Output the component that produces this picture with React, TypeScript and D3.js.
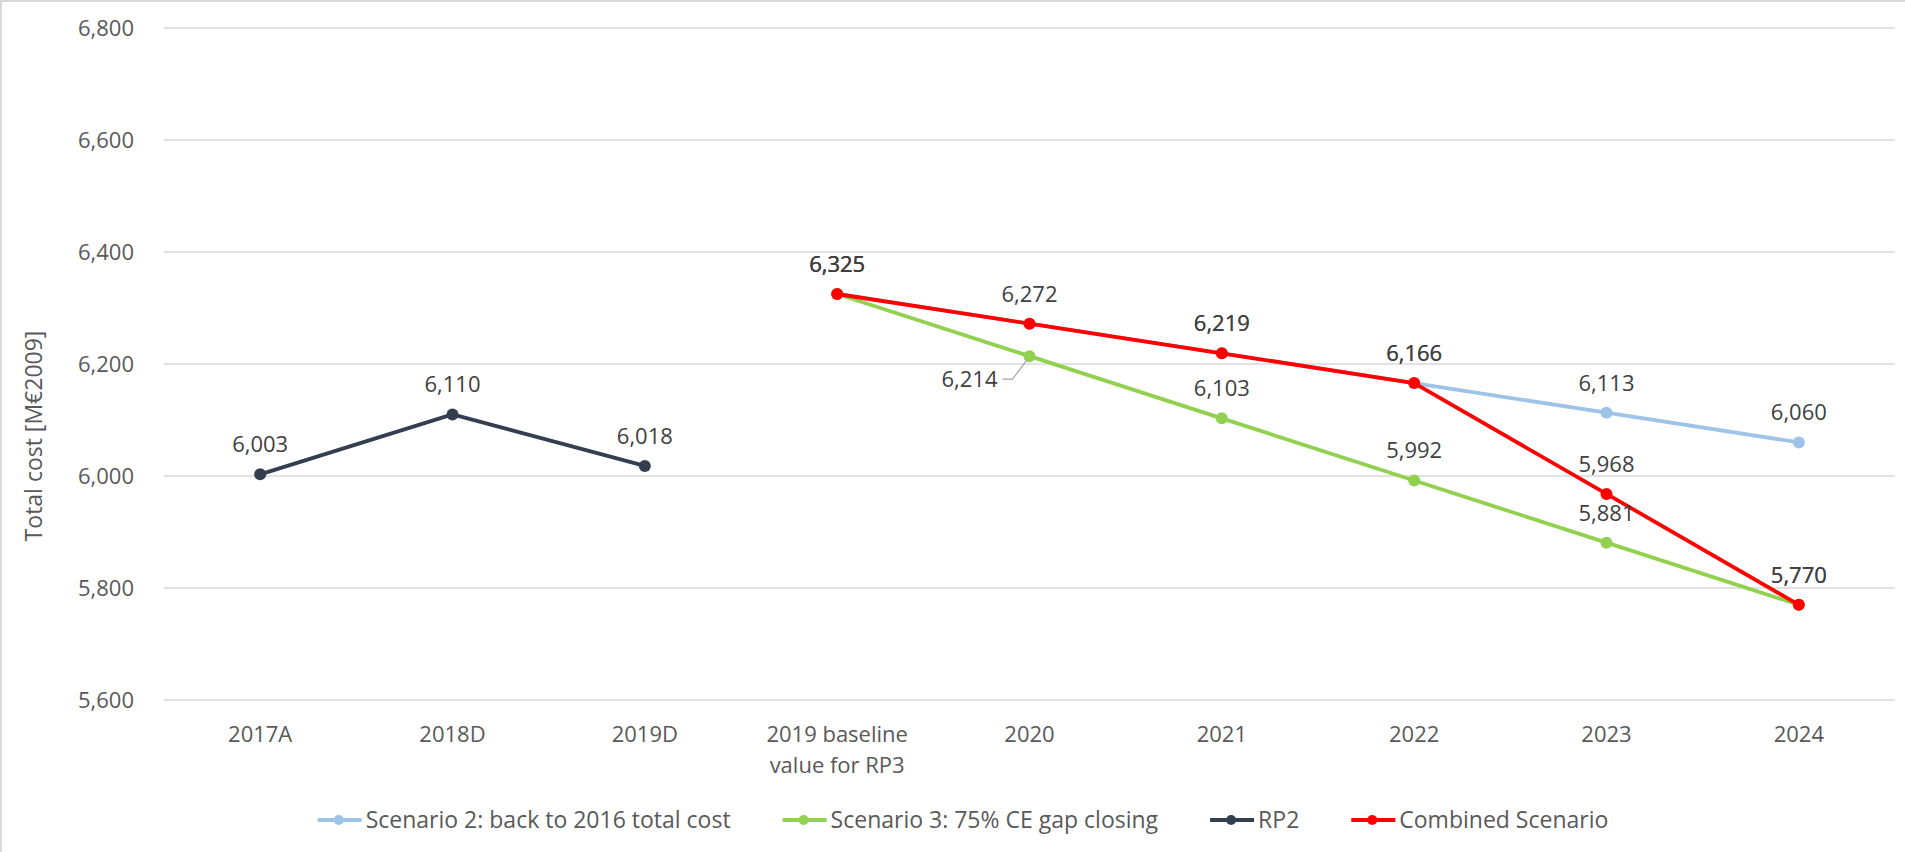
import React, { useEffect, useRef } from "react";
import * as d3 from "d3";

const categories: string[][] = [
  ["2017A"], ["2018D"], ["2019D"], ["2019 baseline", "value for RP3"],
  ["2020"], ["2021"], ["2022"], ["2023"], ["2024"],
];
const yTicks = [5600, 5800, 6000, 6200, 6400, 6600, 6800];

const scenario2 = [null, null, null, 6325, 6272, 6219, 6166, 6113, 6060];
const scenario3 = [null, null, null, 6325, 6214, 6103, 5992, 5881, 5770];
const rp2 = [6003, 6110, 6018, null, null, null, null, null, null];
const combined = [null, null, null, 6325, 6272, 6219, 6166, 5968, 5770];

// which points get a data label (1 = above, 2 = left with leader line, 0 = none)
const scenario2Labels = [0, 0, 0, 1, 0, 1, 1, 1, 1];
const scenario3Labels = [0, 0, 0, 1, 2, 1, 1, 1, 1];
const rp2Labels = [1, 1, 1, 0, 0, 0, 0, 0, 0];
const combinedLabels = [0, 0, 0, 1, 1, 1, 1, 1, 1];

const seriesNames = [
  "Scenario 2: back to 2016 total cost",
  "Scenario 3: 75% CE gap closing",
  "RP2",
  "Combined Scenario",
];
const seriesColors = ["#9DC3E6", "#92D050", "#333F50", "#FF0000"];
const seriesValues = [scenario2, scenario3, rp2, combined];
const seriesLabels = [scenario2Labels, scenario3Labels, rp2Labels, combinedLabels];

const W = 1905;
const H = 852;
const FONT = "'Open Sans', sans-serif";

export default function App() {
  const ref = useRef<SVGSVGElement | null>(null);

  useEffect(() => {
    const svg = d3.select(ref.current);
    svg.selectAll("*").remove();

    const left = 164, right = 1895, top = 28, bottom = 700;
    const x = d3.scaleBand<number>().domain(d3.range(categories.length)).range([left, right]);
    const cx = (i: number) => (x(i) as number) + x.bandwidth() / 2;
    const y = d3.scaleLinear().domain([5600, 6800]).range([bottom, top]);
    const fmt = d3.format(",");

    svg.append("rect").attr("x", 1).attr("y", 1).attr("width", W + 10).attr("height", H + 10)
      .attr("fill", "#fff").attr("stroke", "#D9D9D9").attr("stroke-width", 2);

    // gridlines
    svg.append("g").selectAll("line").data(yTicks).join("line")
      .attr("x1", left).attr("x2", right)
      .attr("y1", (d) => y(d)).attr("y2", (d) => y(d))
      .attr("stroke", "#D9D9D9").attr("stroke-width", 1.3);

    // y tick labels
    svg.append("g").selectAll("text").data(yTicks).join("text")
      .attr("x", 134).attr("y", (d) => y(d)).attr("dy", "0.36em")
      .attr("text-anchor", "end").attr("font-family", FONT).attr("font-size", 22)
      .attr("fill", "#595959").text((d) => fmt(d));

    // y title
    svg.append("text")
      .attr("transform", "translate(42,436) rotate(-90)")
      .attr("text-anchor", "middle").attr("font-family", FONT).attr("font-size", 23)
      .attr("fill", "#595959").text("Total cost [M€2009]");

    // x labels
    const xl = svg.append("g");
    categories.forEach((lines, i) => {
      lines.forEach((ln, j) => {
        xl.append("text").attr("x", cx(i)).attr("y", 742 + j * 31)
          .attr("text-anchor", "middle").attr("font-family", FONT).attr("font-size", 22)
          .attr("fill", "#595959").text(ln);
      });
    });

    // lines + markers
    seriesValues.forEach((vals, s) => {
      const pts = vals.map((v, i) => ({ v, i })).filter((p) => p.v !== null) as { v: number; i: number }[];
      const line = d3.line<{ v: number; i: number }>().x((p) => cx(p.i)).y((p) => y(p.v));
      svg.append("path").attr("d", line(pts) as string).attr("fill", "none")
        .attr("stroke", seriesColors[s]).attr("stroke-width", 3.8).attr("stroke-linejoin", "round");
      svg.append("g").selectAll("circle").data(pts).join("circle")
        .attr("cx", (p) => cx(p.i)).attr("cy", (p) => y(p.v)).attr("r", 6)
        .attr("fill", seriesColors[s]);
    });

    // data labels
    const lg = svg.append("g");
    seriesValues.forEach((vals, s) => {
      vals.forEach((v, i) => {
        if (v === null) return;
        const mode = seriesLabels[s][i];
        const px = cx(i), py = y(v);
        if (mode === 1) {
          lg.append("text").attr("x", px).attr("y", py - 22)
            .attr("text-anchor", "middle").attr("font-family", FONT).attr("font-size", 22)
            .attr("fill", "#404040").text(fmt(v));
        } else if (mode === 2) {
          lg.append("path")
            .attr("d", `M${px - 2},${py + 3}L${px - 17},${py + 23}L${px - 27},${py + 23}`)
            .attr("fill", "none").attr("stroke", "#A6A6A6").attr("stroke-width", 1.2);
          lg.append("text").attr("x", px - 32).attr("y", py + 31)
            .attr("text-anchor", "end").attr("font-family", FONT).attr("font-size", 22)
            .attr("fill", "#404040").text(fmt(v));
        }
      });
    });

    // legend
    const leg = svg.append("g");
    const ly = 820;
    let cur = 0;
    const items: { g: any; w: number }[] = [];
    seriesNames.forEach((name, s) => {
      const g = leg.append("g");
      g.append("line").attr("x1", 0).attr("x2", 44).attr("y1", 0).attr("y2", 0)
        .attr("stroke", seriesColors[s]).attr("stroke-width", 3.8);
      g.append("circle").attr("cx", 21).attr("cy", 0).attr("r", 5).attr("fill", seriesColors[s]);
      const t = g.append("text").attr("x", 48).attr("y", 0).attr("dy", "0.36em")
        .attr("font-family", FONT).attr("font-size", 23).attr("fill", "#595959").text(name);
      const tw = (t.node() as SVGTextElement).getComputedTextLength();
      const w = 48 + tw;
      items.push({ g, w });
    });
    const gap = 52;
    const total = items.reduce((a, b) => a + b.w, 0) + gap * (items.length - 1);
    cur = 963 - total / 2;
    items.forEach((it) => {
      it.g.attr("transform", `translate(${cur},${ly})`);
      cur += it.w + gap;
    });
  }, []);

  return (
    <svg ref={ref} width={W} height={H}
      style={{ position: "absolute", left: 0, top: 0, background: "#fff" }} />
  );
}
